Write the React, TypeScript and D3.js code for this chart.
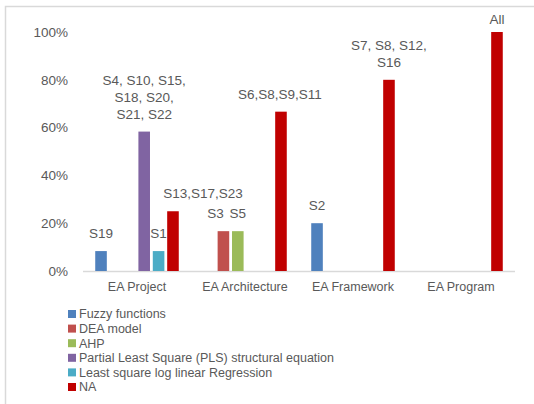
import React from "react";
import * as d3 from "d3";

const categories = ["EA Project", "EA Architecture", "EA Framework", "EA Program"];
const seriesNames = [
  "Fuzzy functions",
  "DEA model",
  "AHP",
  "Partial Least Square (PLS) structural equation",
  "Least square log linear Regression",
  "NA",
];
const seriesColors = ["#4F81BD", "#C0504D", "#9BBB59", "#8064A2", "#4BACC6", "#C00000"];

// values per series, per category (null = no bar)
const fuzzyValues = [1 / 12, null, 0.2, null];
const deaValues = [null, 1 / 6, null, null];
const ahpValues = [null, 1 / 6, null, null];
const plsValues = [7 / 12, null, null, null];
const lslrValues = [1 / 12, null, null, null];
const naValues = [3 / 12, 4 / 6, 0.8, 1];
const seriesValues = [fuzzyValues, deaValues, ahpValues, plsValues, lslrValues, naValues];

// data labels per series, per category (lines)
const fuzzyLabels = [["S19"], null, ["S2"], null];
const deaLabels = [null, ["S3"], null, null];
const ahpLabels = [null, ["S5"], null, null];
const plsLabels = [["S4, S10, S15,", "S18, S20,", "S21, S22"], null, null, null];
const lslrLabels = [["S1"], null, null, null];
const naLabels = [["S13,S17,S23"], ["S6,S8,S9,S11"], ["S7, S8, S12,", "S16"], ["All"]];
const seriesLabels = [fuzzyLabels, deaLabels, ahpLabels, plsLabels, lslrLabels, naLabels];

const yTicks = [0, 0.2, 0.4, 0.6, 0.8, 1];

// manual label nudges (series index - category index)
const labelShift: Record<string, [number, number]> = {
  "5-0": [30, 0],
  "1-1": [-8, 0],
  "5-1": [-1, 0],
  "5-3": [0, 5],
};

const FONT = "'Liberation Sans', Arial, sans-serif";
const TEXT = "#595959";

export default function App() {
  const W = 534, H = 404;
  const x0 = d3.scaleBand<string>().domain(categories).range([83, 515]).paddingInner(0).paddingOuter(0);
  const x1 = d3
    .scaleBand<number>()
    .domain(d3.range(seriesNames.length))
    .range([0, x0.bandwidth()])
    .paddingInner(0.195)
    .paddingOuter(0.85);
  const y = d3.scaleLinear().domain([0, 1]).range([271, 32]);
  const fmt = d3.format(".0%");

  const bars: React.ReactNode[] = [];
  const labels: React.ReactNode[] = [];
  seriesValues.forEach((vals, si) => {
    vals.forEach((v, ci) => {
      if (v == null) return;
      const bx = (x0(categories[ci]) ?? 0) + (x1(si) ?? 0);
      bars.push(
        <rect
          key={`b${si}-${ci}`}
          x={bx}
          y={y(v)}
          width={x1.bandwidth()}
          height={y(0) - y(v)}
          fill={seriesColors[si]}
        />
      );
      const lines = seriesLabels[si][ci];
      if (lines) {
        const [dx, dy] = labelShift[`${si}-${ci}`] ?? [0, 0];
        const cx = bx + x1.bandwidth() / 2 + dx;
        const lastBase = y(v) - 13 + dy;
        lines.forEach((ln, li) => {
          labels.push(
            <text
              key={`l${si}-${ci}-${li}`}
              x={cx}
              y={lastBase - (lines.length - 1 - li) * 17}
              textAnchor="middle"
              fontSize={13.5}
              fill={TEXT}
              fontFamily={FONT}
            >
              {ln}
            </text>
          );
        });
      }
    });
  });

  // draw labels before bars so later bars may cover them (as in reference S1)
  return (
    <svg
      width={W}
      height={H}
      style={{ position: "absolute", left: 0, top: 0, background: "#fff" }}
    >
      <rect x={0} y={0} width={W} height={H} fill="#fff" />
      <rect x={5.5} y={6.5} width={700} height={700} fill="none" stroke="#D9D9D9" strokeWidth={1.5} />
      {yTicks.map((t) => (
        <text
          key={t}
          x={68}
          y={y(t)}
          dy="0.35em"
          textAnchor="end"
          fontSize={13.5}
          fill={TEXT}
          fontFamily={FONT}
        >
          {fmt(t)}
        </text>
      ))}
      <line x1={83} x2={515} y1={271.5} y2={271.5} stroke="#D9D9D9" strokeWidth={1.5} />
      {labels}
      {bars}
      {categories.map((c) => (
        <text
          key={c}
          x={(x0(c) ?? 0) + x0.bandwidth() / 2}
          y={291}
          textAnchor="middle"
          fontSize={12.5}
          fill={TEXT}
          fontFamily={FONT}
        >
          {c}
        </text>
      ))}
      {seriesNames.map((n, i) => {
        const cy = 314 + i * 14.6;
        return (
          <g key={n}>
            <rect x={68} y={cy - 4} width={8} height={8} fill={seriesColors[i]} />
            <text x={79} y={cy} dy="0.35em" fontSize={12.5} fill={TEXT} fontFamily={FONT}>
              {n}
            </text>
          </g>
        );
      })}
    </svg>
  );
}
